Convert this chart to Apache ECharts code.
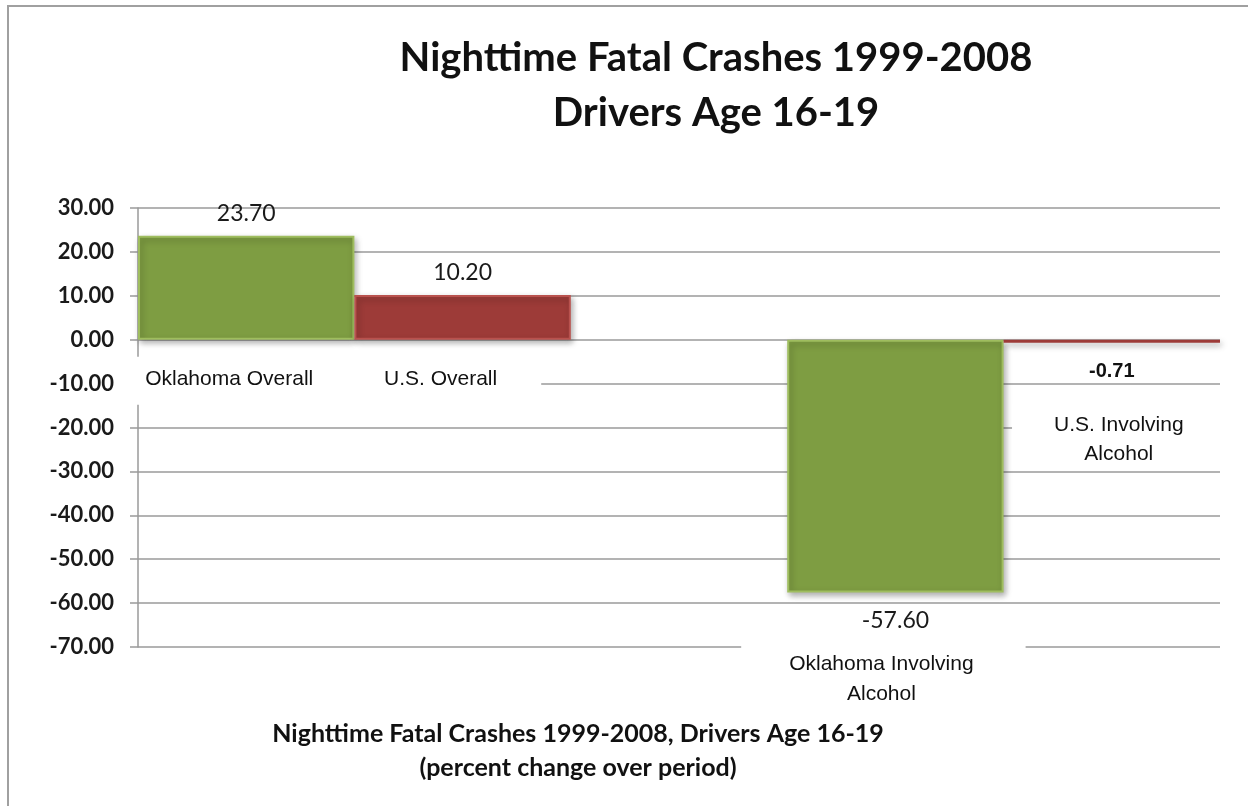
<!DOCTYPE html>
<html>
<head>
<meta charset="utf-8">
<script src="https://cdn.jsdelivr.net/npm/echarts@6/dist/echarts.min.js"></script>
<style>
  html, body { margin: 0; padding: 0; background: #fff; }
  #frame {
    position: absolute; left: 0; top: 0; width: 1248px; height: 806px;
    background: #fff;
  }
  #frame:before {
    content: ""; position: absolute; left: 7px; top: 5px; right: 0; bottom: 0;
    border-top: 2px solid #a0a0a0; border-left: 2px solid #a0a0a0;
  }
  #chart { position: absolute; left: 0; top: 0; width: 1248px; height: 806px; }
</style>
</head>
<body>
<div id="frame"></div>
<div id="chart"></div>
<script>
  // data
  var categories = ["Oklahoma Overall", "U.S. Overall", "Oklahoma Involving Alcohol", "U.S. Involving Alcohol"];
  var oklahomaValues = [23.70, -57.60];   // overall, involving alcohol
  var usValues = [10.20, -0.71];
  var yMin = -70, yMax = 30, yStep = 10;

  var TITLE = "Nighttime Fatal Crashes 1999-2008\nDrivers Age 16-19";
  var SUBTITLE = "Nighttime Fatal Crashes 1999-2008, Drivers Age 16-19\n(percent change over period)";

  var GREEN = "#7e9d42", GREEN_EDGE = "#9fbd5f";
  var RED = "#9d3b38", RED_EDGE = "#b9524e";
  var CALIBRI = "Lato, 'Open Sans', sans-serif";
  var ARIAL = "'Liberation Sans', Arial, sans-serif";

  // five slots on the axis: two bars, a gap, two bars
  var slots = [categories[0], categories[1], " ", categories[2], categories[3]];
  var okData = [oklahomaValues[0], "-", "-", oklahomaValues[1], "-"];
  var usData = ["-", usValues[0], "-", "-", usValues[1]];
  var allData = [oklahomaValues[0], usValues[0], "-", oklahomaValues[1], usValues[1]];

  // where each category name sits (styling only)
  var nameStyle = [
    { distance: 17, padding: [8, 36, 10, 16], offset: [-7, 0], lineHeight: 30 },
    { distance: 17, padding: [8, 44, 10, 40], offset: [-20, 0], lineHeight: 30 },
    null,
    { distance: 49, padding: [8, 52, 10, 48], offset: [-12, 0], lineHeight: 30 },
    { distance: 62, padding: [6, 42, 0, 42], offset: [7, 0], lineHeight: 29 }
  ];
  var valueStyle = [
    { position: "top", distance: 11 },
    { position: "top", distance: 11 },
    null,
    { position: "bottom", distance: 17 },
    { position: "bottom", distance: 19, fontSize: 20, fontFamily: ARIAL, fontWeight: "bold", color: "#111" }
  ];

  function barItem(v, i, color, edge) {
    if (v === "-") return "-";
    var vs = valueStyle[i];
    return {
      value: v,
      itemStyle: { color: color, borderColor: Math.abs(v) < 2 ? color : edge },
      label: {
        show: true,
        position: vs.position,
        distance: vs.distance,
        fontSize: vs.fontSize || 23,
        fontFamily: vs.fontFamily || CALIBRI,
        fontWeight: vs.fontWeight || "normal",
        color: vs.color || "#1a1a1a",
        formatter: function (p) { return Number(p.value).toFixed(2); }
      }
    };
  }

  var nameData = allData.map(function (v, i) {
    if (v === "-") return "-";
    var ns = nameStyle[i];
    return {
      value: v,
      label: {
        show: true,
        position: "bottom",
        distance: ns.distance,
        offset: ns.offset,
        padding: ns.padding,
        backgroundColor: "#fff",
        fontFamily: ARIAL,
        fontSize: 21,
        lineHeight: ns.lineHeight,
        color: "#111",
        formatter: slots[i].replace(" Alcohol", "\nAlcohol")
      }
    };
  });

  var chart = echarts.init(document.getElementById("chart"), null, { renderer: "canvas" });

  chart.setOption({
    backgroundColor: "transparent",
    animation: false,
    title: [
      {
        text: TITLE,
        left: 711, top: 26, textAlign: "center",
        textStyle: { fontFamily: CALIBRI, fontWeight: "bold", fontSize: 40, lineHeight: 55, color: "#111" }
      },
      {
        text: SUBTITLE,
        left: 573, top: 712, textAlign: "center",
        textStyle: { fontFamily: CALIBRI, fontWeight: "bold", fontSize: 25, lineHeight: 34, color: "#111" }
      }
    ],
    grid: { left: 138, right: 28, top: 208, bottom: 159, containLabel: false },
    xAxis: {
      type: "category",
      data: slots,
      axisLine: { show: false },
      axisTick: { show: false },
      axisLabel: { show: false },
      splitLine: { show: false }
    },
    yAxis: {
      type: "value",
      min: yMin, max: yMax, interval: yStep,
      axisLine: { show: true, lineStyle: { color: "#9a9a9a", width: 1.5 } },
      axisTick: { show: true, inside: false, length: 8, lineStyle: { color: "#9a9a9a", width: 1.5 } },
      axisLabel: {
        margin: 24,
        fontFamily: CALIBRI, fontSize: 22, fontWeight: "bold", color: "#1a1a1a",
        formatter: function (v) { return v.toFixed(2); }
      },
      splitLine: { show: true, lineStyle: { color: "#9a9a9a", width: 1.5 } }
    },
    series: [
      {
        name: "Oklahoma",
        type: "bar",
        data: okData.map(function (v, i) { return barItem(v, i, GREEN, GREEN_EDGE); }),
        barGap: "-100%",
        barCategoryGap: "0%",
        itemStyle: { borderWidth: 2, shadowBlur: 6, shadowOffsetX: 2, shadowOffsetY: 3, shadowColor: "rgba(0,0,0,0.3)" },
        z: 3
      },
      {
        name: "U.S.",
        type: "bar",
        data: usData.map(function (v, i) { return barItem(v, i, RED, RED_EDGE); }),
        barGap: "-100%",
        barCategoryGap: "0%",
        itemStyle: { borderWidth: 2, shadowBlur: 6, shadowOffsetX: 2, shadowOffsetY: 3, shadowColor: "rgba(0,0,0,0.3)" },
        z: 3
      },
      {
        name: "names",
        type: "bar",
        data: nameData,
        barGap: "-100%",
        barCategoryGap: "0%",
        silent: true,
        itemStyle: { color: "rgba(0,0,0,0)" },
        z: 4
      }
    ]
  });
</script>
</body>
</html>
